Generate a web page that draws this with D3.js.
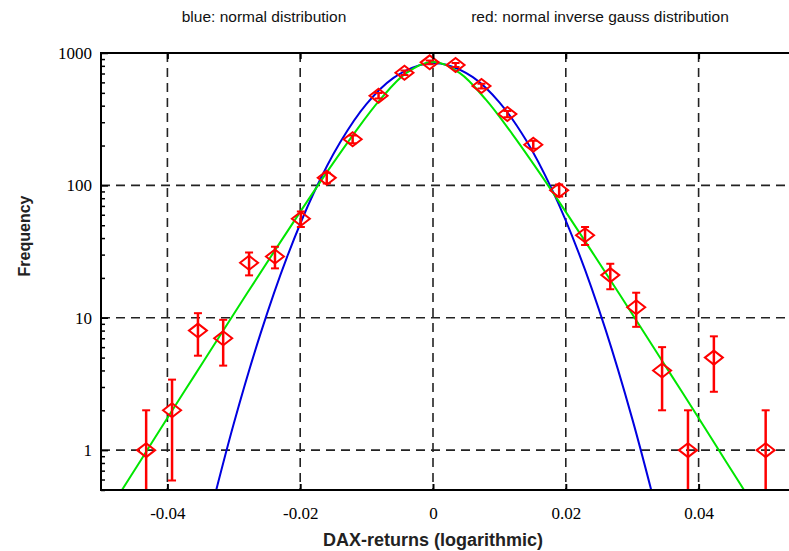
<!DOCTYPE html>
<html>
<head>
<meta charset="utf-8">
<script src="https://cdn.jsdelivr.net/npm/d3@7"></script>
<style>
  html, body { margin: 0; padding: 0; background: #fff; }
  svg { display: block; }
</style>
</head>
<body>
<div id="chart"></div>
<script>
// ---- data ----
const binCenters = [-0.0432, -0.0393, -0.0354, -0.0316, -0.0277, -0.0238, -0.0199, -0.0160,
  -0.0121, -0.0082, -0.0043, -0.0005, 0.0034, 0.0073, 0.0112, 0.0151, 0.0190, 0.0229,
  0.0267, 0.0306, 0.0345, 0.0384, 0.0423, 0.0501];
const counts = [1, 2, 8, 7, 26, 29, 56, 114, 223, 476, 710, 850, 812, 563, 346, 203,
  92, 42, 21, 12, 4, 1, 5, 1];
const countErrors = [1, 1.41, 2.83, 2.65, 5.1, 5.39, 7.48, 10.68, 14.93, 21.82, 26.65,
  29.15, 28.5, 23.73, 18.6, 14.25, 9.59, 6.48, 4.58, 3.46, 2, 1, 2.24, 1];

const normalX = [-0.034, -0.030, -0.026, -0.022, -0.018, -0.014, -0.010, -0.006, -0.002,
  0.0001, 0.002, 0.006, 0.010, 0.014, 0.018, 0.022, 0.026, 0.030, 0.034];
const normalY = [0.27, 1.59, 7.53, 28.6, 86.9, 211, 413, 646, 810, 836, 815, 657, 424,
  220, 91.2, 30.4, 8.10, 1.73, 0.30];

const nigX = [-0.048, -0.044, -0.040, -0.036, -0.032, -0.028, -0.024, -0.020, -0.016,
  -0.012, -0.008, -0.004, 0, 0.004, 0.008, 0.012, 0.016, 0.020, 0.024, 0.028, 0.032,
  0.036, 0.040, 0.044, 0.048];
const nigY = [0.405, 0.84, 1.75, 3.61, 7.45, 15.3, 31.2, 63.1, 125.5, 242, 442, 707, 859,
  707, 442, 242, 125.5, 63.1, 31.2, 15.3, 7.45, 3.61, 1.75, 0.84, 0.405];

const xTickValues = [-0.04, -0.02, 0, 0.02, 0.04];
const xTickLabels = ["-0.04", "-0.02", "0", "0.02", "0.04"];
const yTickValues = [1, 10, 100, 1000];
const yTickLabels = ["1", "10", "100", "1000"];
const yGridValues = [1, 10, 100];

const titleLeft = "blue: normal distribution";
const titleRight = "red: normal inverse gauss distribution";
const xTitle = "DAX-returns (logarithmic)";
const yTitle = "Frequency";

// ---- layout ----
const W = 789, H = 551;
const L = 101, T = 53, B = 490;
const R = L + 664 * 1.1; // plot continues past the right edge of the picture

const svg = d3.select("#chart").append("svg")
  .attr("width", W).attr("height", H);

const x = d3.scaleLinear().domain([-0.05, 0.06]).range([L, R]);
const y = d3.scaleLog().domain([0.5, 1000]).range([B, T]);

svg.append("defs").append("clipPath").attr("id", "plotclip")
  .append("rect").attr("x", L).attr("y", T).attr("width", R - L).attr("height", B - T);

// grid
const grid = svg.append("g").attr("stroke", "#222").attr("stroke-width", 1.6)
  .attr("stroke-dasharray", "9,6");
grid.selectAll("line.gx").data(xTickValues).join("line").attr("class", "gx")
  .attr("x1", d => x(d)).attr("x2", d => x(d)).attr("y1", T).attr("y2", B);
grid.selectAll("line.gy").data(yGridValues).join("line").attr("class", "gy")
  .attr("x1", L).attr("x2", W).attr("y1", d => y(d)).attr("y2", d => y(d));

const plot = svg.append("g").attr("clip-path", "url(#plotclip)");

const line = d3.line().x(d => x(d[0])).y(d => y(d[1])).curve(d3.curveCatmullRom.alpha(0.5));

plot.append("path").datum(normalX.map((v, i) => [v, normalY[i]]))
  .attr("d", line).attr("fill", "none").attr("stroke", "#0000e0").attr("stroke-width", 2);
plot.append("path").datum(nigX.map((v, i) => [v, nigY[i]]))
  .attr("d", line).attr("fill", "none").attr("stroke", "#00e600").attr("stroke-width", 2);

// error bars + diamonds
const pts = binCenters.map((v, i) => ({ x: v, n: counts[i], e: countErrors[i] }));
const red = "#ff0000";
const eb = plot.append("g").attr("stroke", red).attr("fill", "none");
pts.forEach(p => {
  const lo = Math.max(p.n - p.e, 0.2), hi = p.n + p.e;
  const cx = x(p.x);
  eb.append("line").attr("x1", cx).attr("x2", cx).attr("y1", y(lo)).attr("y2", y(hi))
    .attr("stroke-width", 2.5);
  eb.append("line").attr("x1", cx - 4).attr("x2", cx + 4).attr("y1", y(hi)).attr("y2", y(hi))
    .attr("stroke-width", 2);
  eb.append("line").attr("x1", cx - 4).attr("x2", cx + 4).attr("y1", y(lo)).attr("y2", y(lo))
    .attr("stroke-width", 2);
  const cy = y(p.n);
  eb.append("path")
    .attr("d", `M${cx - 9},${cy} L${cx},${cy - 7} L${cx + 9},${cy} L${cx},${cy + 7} Z`)
    .attr("stroke-width", 2);
});

// axes frame
const frame = svg.append("g").attr("stroke", "#000").attr("stroke-width", 2);
frame.append("line").attr("x1", L).attr("x2", W).attr("y1", T).attr("y2", T);
frame.append("line").attr("x1", L).attr("x2", W).attr("y1", B).attr("y2", B);
frame.append("line").attr("x1", L).attr("x2", L).attr("y1", T - 1).attr("y2", B + 1);

// y ticks (inside)
const minorY = [];
[0.1, 1, 10, 100].forEach(dec => { for (let k = 2; k <= 9; k++) { const v = dec * k; if (v >= 0.5 && v < 1000) minorY.push(v); } });
svg.append("g").attr("transform", `translate(${L},0)`)
  .call(d3.axisRight(y).tickValues(minorY).tickSize(4).tickFormat(""))
  .call(g => g.select(".domain").remove())
  .call(g => g.selectAll("line").attr("stroke", "#000").attr("stroke-width", 1.5));
svg.append("g").attr("transform", `translate(${L},0)`)
  .call(d3.axisRight(y).tickValues(yTickValues).tickSize(7).tickFormat(""))
  .call(g => g.select(".domain").remove())
  .call(g => g.selectAll("line").attr("stroke", "#000").attr("stroke-width", 1.5));
svg.append("g").attr("transform", `translate(${L},0)`)
  .call(d3.axisLeft(y).tickValues(yTickValues).tickSize(0).tickPadding(9)
    .tickFormat((d, i) => yTickLabels[i]))
  .call(g => g.select(".domain").remove())
  .call(g => g.selectAll("text").attr("font-family", "'Liberation Serif', serif")
    .attr("font-size", 17).attr("fill", "#000"));

// x ticks (inside, bottom and top)
svg.append("g").attr("transform", `translate(0,${B})`)
  .call(d3.axisTop(x).tickValues(xTickValues).tickSize(6).tickFormat(""))
  .call(g => g.select(".domain").remove())
  .call(g => g.selectAll("line").attr("stroke", "#000").attr("stroke-width", 2));
svg.append("g").attr("transform", `translate(0,${T})`)
  .call(d3.axisBottom(x).tickValues(xTickValues).tickSize(6).tickFormat(""))
  .call(g => g.select(".domain").remove())
  .call(g => g.selectAll("line").attr("stroke", "#000").attr("stroke-width", 2));
svg.append("g").attr("transform", `translate(0,${B})`)
  .call(d3.axisBottom(x).tickValues(xTickValues).tickSize(0).tickPadding(17)
    .tickFormat((d, i) => xTickLabels[i]))
  .call(g => g.select(".domain").remove())
  .call(g => g.selectAll("text").attr("font-family", "'Liberation Serif', serif")
    .attr("font-size", 17).attr("fill", "#000"));

// titles
svg.append("text").attr("x", 264).attr("y", 22).attr("text-anchor", "middle")
  .attr("font-family", "'Liberation Sans', Arial, sans-serif").attr("font-size", 15.5)
  .attr("fill", "#111").text(titleLeft);
svg.append("text").attr("x", 600).attr("y", 22).attr("text-anchor", "middle")
  .attr("font-family", "'Liberation Sans', Arial, sans-serif").attr("font-size", 15.5)
  .attr("fill", "#111").text(titleRight);
svg.append("text").attr("x", 433).attr("y", 546).attr("text-anchor", "middle")
  .attr("font-family", "'Liberation Sans', Arial, sans-serif").attr("font-size", 18)
  .attr("font-weight", "bold").attr("fill", "#222").text(xTitle);
svg.append("text").attr("transform", "translate(30,236) rotate(-90)").attr("text-anchor", "middle")
  .attr("font-family", "'Liberation Sans', Arial, sans-serif").attr("font-size", 16)
  .attr("font-weight", "bold").attr("fill", "#222").text(yTitle);
</script>
</body>
</html>
